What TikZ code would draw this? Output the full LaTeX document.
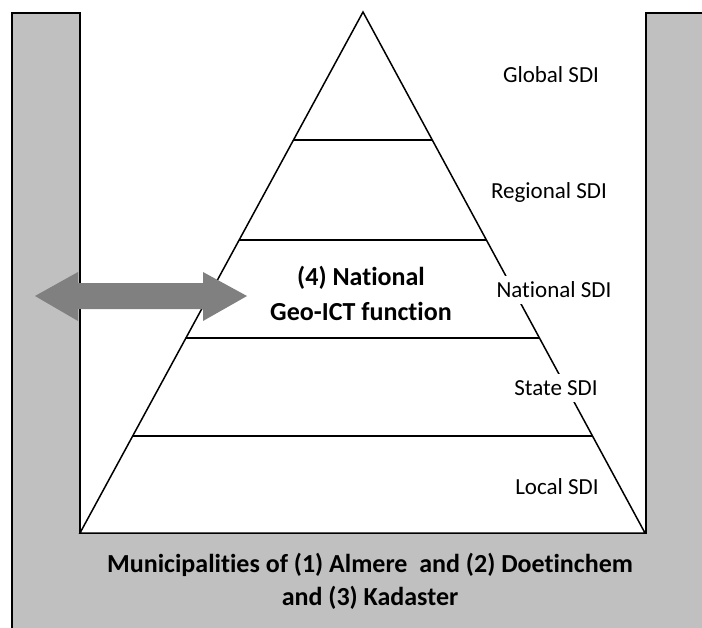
\documentclass[tikz,border=0pt]{standalone}
\usepackage{fontspec}
\setmainfont{Carlito}[Ligatures={NoCommon}]
\usetikzlibrary{calc}
\definecolor{frame}{HTML}{C0C0C0}
\definecolor{arrowgrey}{HTML}{808080}
\begin{document}
\begin{tikzpicture}[x=1pt,y=-1pt,
  edge/.style={draw=black,line width=1.5pt},
  sdilabel/.style={fill=white,inner xsep=2pt,inner ysep=6pt,font=\fontsize{23}{28}\selectfont},
  boldtext/.style={align=center,font=\bfseries\fontsize{26}{35}\selectfont}]
\useasboundingbox (0,0) rectangle (702,627);
\begin{scope}
\clip (0,0) rectangle (702,627);
% grey U-shaped surround
\draw[fill=frame,line width=1.6pt] (12,13) -- (80,13) -- (80,533) -- (646,533) -- (646,13)
  -- (720,13) -- (720,650) -- (12,650) -- cycle;
\end{scope}
% pyramid
\coordinate (apex) at (363,12);
\coordinate (bl) at (80,533);
\coordinate (br) at (645,533);
\draw[edge,fill=white,line join=miter] (apex) -- (bl) -- (br) -- cycle;
\foreach \t in {0.2457,0.4376,0.6257,0.8138}
  \draw[edge] ($(apex)!\t!(bl)$) -- ($(apex)!\t!(br)$);
% level labels, masking the pyramid edge behind them
\node[sdilabel] (global)   at (551,75)  {Global SDI};
\node[sdilabel] (regional) at (549,192) {Regional SDI};
\node[sdilabel] (national) at (554,290) {National SDI};
\node[sdilabel] (state)    at (556,388) {State SDI};
\node[sdilabel] (local)    at (557,487) {Local SDI};
% double-headed exchange arrow
\fill[arrowgrey] (35,296) -- (78,272) -- (78,283) -- (203,283) -- (203,272) -- (247,296)
  -- (203,321) -- (203,309) -- (78,309) -- (78,321) -- cycle;
\node[boldtext] (fn) at (361,293) {(4) National\\Geo-ICT function};
\node[boldtext,font=\bfseries\fontsize{26}{33}\selectfont] (muni) at (370,581)
  {Municipalities of (1) Almere\ \ and (2) Doetinchem\\and (3) Kadaster};
\end{tikzpicture}
\end{document}
